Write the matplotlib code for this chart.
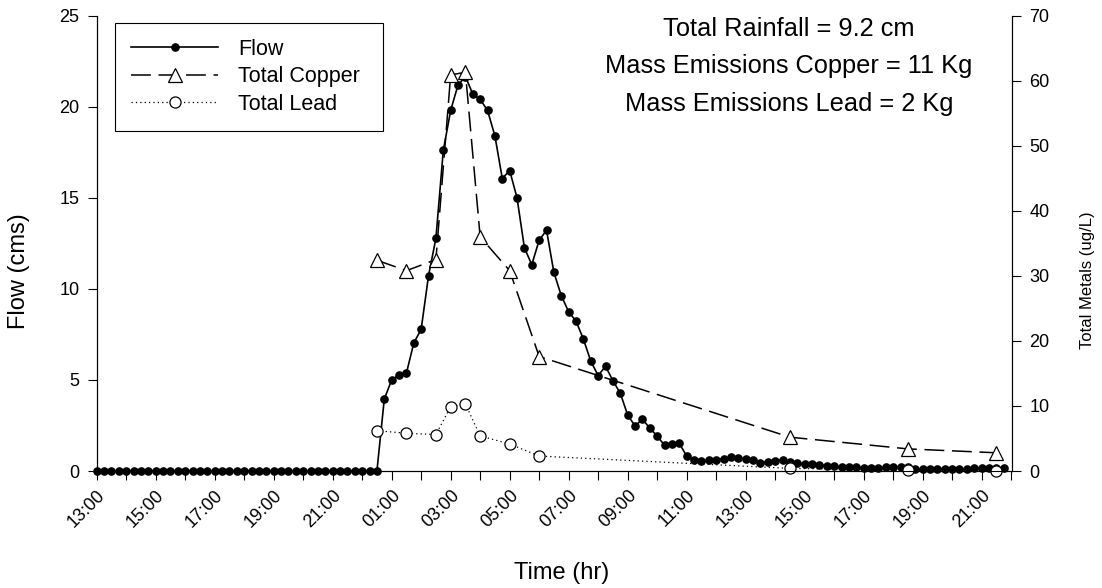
import matplotlib
matplotlib.use("Agg")
import matplotlib.pyplot as plt

plt.rcParams['font.family'] = ['Liberation Sans', 'DejaVu Sans']

# flow, sampled every 15 min starting at 13:00 (hours since 13:00)
flow = [0, 0, 0, 0, 0, 0, 0, 0, 0, 0, 0, 0, 0, 0, 0, 0, 0, 0, 0, 0,
        0, 0, 0, 0, 0, 0, 0, 0, 0, 0, 0, 0, 0, 0, 0, 0, 0, 0, 0,
        3.95, 5.0, 5.27, 5.37, 7.03, 7.78, 10.73, 12.78, 17.6, 19.8,
        21.2, 21.66, 20.7, 20.4, 19.8, 18.4, 16.06, 16.5, 15.0, 12.25,
        11.33, 12.67, 13.22, 10.9, 9.63, 8.74, 8.23, 7.24, 6.03, 5.24,
        5.75, 4.96, 4.27, 3.08, 2.47, 2.84, 2.36, 1.92, 1.41, 1.48,
        1.52, 0.82, 0.62, 0.57, 0.6, 0.62, 0.68, 0.78, 0.72, 0.65,
        0.6, 0.45, 0.5, 0.55, 0.6, 0.5, 0.42, 0.38, 0.36, 0.33,
        0.3, 0.25, 0.22, 0.2, 0.2, 0.18, 0.18, 0.18, 0.2, 0.2,
        0.22, 0.24, 0.1, 0.1, 0.12, 0.12, 0.12, 0.12, 0.12, 0.12,
        0.14, 0.14, 0.16, 0.18, 0.18]
FLOW_STEP = 0.25
flow_hours = [i * FLOW_STEP for i in range(len(flow))]

metal_hours = [9.5, 10.5, 11.5, 12.0, 12.5, 13.0, 14.0, 15.0, 23.5, 27.5, 30.5]
copper = [32.4, 30.8, 32.5, 60.9, 61.3, 36.0, 30.8, 17.6, 5.2, 3.4, 2.8]
lead = [6.2, 5.8, 5.6, 9.9, 10.3, 5.4, 4.15, 2.3, 0.4, 0.15, 0.05]

tick_labels = ["13:00", "15:00", "17:00", "19:00", "21:00", "01:00", "03:00",
               "05:00", "07:00", "09:00", "11:00", "13:00", "15:00", "17:00",
               "19:00", "21:00"]

W, H = 1102, 588
fig = plt.figure(figsize=(W / 100, H / 100), dpi=100)
ax = fig.add_axes([96.7 / W, 1 - 471 / H, (1012 - 96.7) / W, (471 - 15.7) / H])
ax2 = ax.twinx()

l1, = ax.plot(flow_hours, flow, '-', color='black', lw=1.2, marker='o',
              ms=5.2, mfc='black', mec='black', clip_on=False, zorder=3, label='Flow')
l2, = ax2.plot(metal_hours, copper, color='black', lw=1.1, dashes=(13, 5),
               marker='^', ms=10.5, mfc='white', mec='black', mew=0.9,
               clip_on=False, label='Total Copper')
l3, = ax2.plot(metal_hours, lead, color='black', lw=0.9, dashes=(1, 2.5),
               marker='o', ms=8, mfc='white', mec='black', mew=0.9,
               clip_on=False, label='Total Lead')

ax.set_xlim(0, 31.03)
ax.set_ylim(0, 25)
ax2.set_ylim(0, 70)
ax.set_yticks([0, 5, 10, 15, 20, 25])
ax2.set_yticks(range(0, 71, 10))
ax.set_xticks(range(0, 32))
ax.set_xticklabels([tick_labels[i // 2] if i % 2 == 0 else "" for i in range(32)],
                   rotation=45, ha='right', rotation_mode='anchor')

for a in (ax, ax2):
    a.spines['top'].set_visible(False)
    a.tick_params(direction='out', length=6.5, width=0.8, labelsize=13, pad=6)
    for s in a.spines.values():
        s.set_linewidth(0.8)
ax.tick_params(axis='x', pad=5)

ax.set_ylabel("Flow (cms)", fontsize=17)
ax.yaxis.set_label_coords(-0.073, 0.44)
ax.set_xlabel("Time (hr)", fontsize=17)
ax.xaxis.set_label_coords(0.508, -0.2)
ax2.set_ylabel("Total Metals (ug/L)", fontsize=12)
ax2.yaxis.set_label_coords(1.074, 0.42)

leg = ax.legend(handles=[l1, l2, l3], loc='upper left', mode='expand',
                bbox_to_anchor=(115 / W, 1 - 130.7 / H, 268 / W, 108 / H),
                bbox_transform=fig.transFigure,
                borderaxespad=0, fancybox=False, edgecolor='black', framealpha=1,
                fontsize=15.5, handlelength=4.05, handletextpad=0.93,
                labelspacing=0.3, borderpad=0.75)
leg.get_frame().set_linewidth(0.8)

notes = ["Total Rainfall = 9.2 cm", "Mass Emissions Copper = 11 Kg",
         "Mass Emissions Lead = 2 Kg"]
for i, txt in enumerate(notes):
    fig.text(789 / W, 1 - (29 + 37.5 * i) / H, txt, ha='center', va='center',
             fontsize=18.3)

fig.savefig("out.png", dpi=100)
